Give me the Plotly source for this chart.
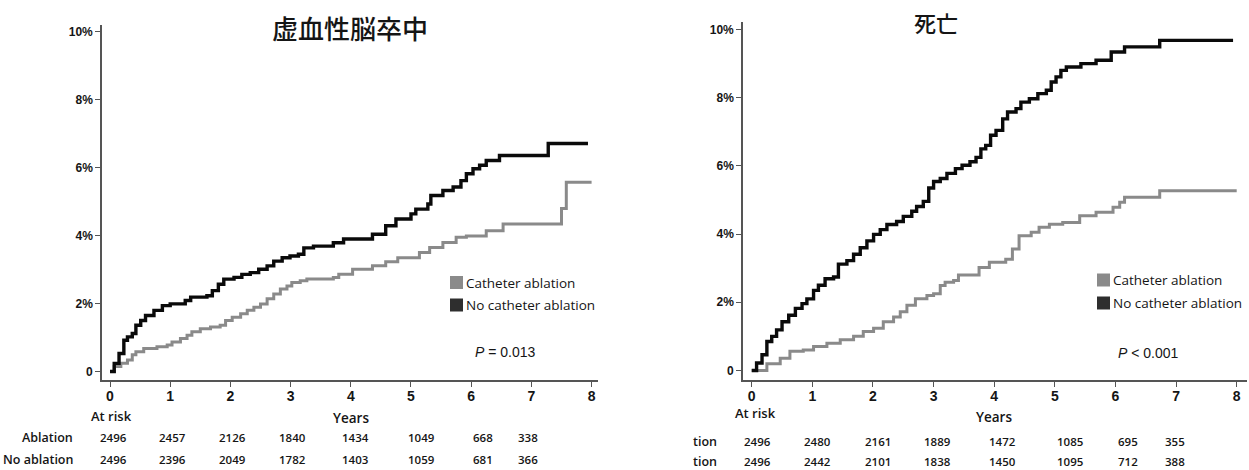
import plotly.graph_objects as go

W, H = 1249, 470

# ---------------- data ----------------
years = [0, 1, 2, 3, 4, 5, 6, 7, 8]
ytick_vals = [0, 2, 4, 6, 8, 10]
ytick_text = ["0", "2%", "4%", "6%", "8%", "10%"]

title_left = "虚血性脳卒中"
title_right = "死亡"
legend_labels = ["Catheter ablation", "No catheter ablation"]
p_left = "<i>P</i> = 0.013"
p_right = "<i>P</i> &lt; 0.001"

# Ischemic stroke – catheter ablation (years, cumulative %)
stroke_abl_t = [0, 0.07, 0.18, 0.29, 0.37, 0.43, 0.56, 0.78, 0.95, 1.03, 1.17, 1.28, 1.36, 1.5,
                1.67, 1.83, 1.92, 2.03, 2.17, 2.28, 2.39, 2.5, 2.61, 2.72, 2.83, 2.94, 3.02,
                3.16, 3.27, 3.71, 3.8, 4.03, 4.36, 4.58, 4.78, 5.14, 5.31, 5.53, 5.75, 5.92,
                6.25, 6.53, 7.5, 7.58, 8.0]
stroke_abl_y = [0, 0.15, 0.24, 0.34, 0.49, 0.58, 0.68, 0.73, 0.78, 0.87, 0.97, 1.07, 1.17, 1.26,
                1.31, 1.36, 1.5, 1.6, 1.7, 1.8, 1.89, 1.99, 2.14, 2.28, 2.43, 2.52, 2.62,
                2.67, 2.72, 2.77, 2.86, 3.01, 3.11, 3.23, 3.35, 3.5, 3.65, 3.8, 3.95, 3.99,
                4.14, 4.34, 4.8, 5.57, 5.57]

# Ischemic stroke – no catheter ablation
stroke_no_t = [0, 0.07, 0.15, 0.23, 0.29, 0.37, 0.43, 0.51, 0.59, 0.73, 0.87, 1.0, 1.25, 1.34,
               1.61, 1.7, 1.8, 1.89, 2.06, 2.19, 2.33, 2.47, 2.61, 2.72, 2.86, 2.99, 3.13,
               3.22, 3.38, 3.71, 3.88, 4.36, 4.58, 4.75, 5.0, 5.08, 5.28, 5.33, 5.53, 5.7,
               5.83, 5.92, 6.03, 6.14, 6.25, 6.47, 7.28, 7.94]
stroke_no_y = [0, 0.24, 0.53, 0.92, 1.02, 1.12, 1.36, 1.5, 1.65, 1.8, 1.94, 1.99, 2.09, 2.19,
               2.23, 2.38, 2.57, 2.72, 2.77, 2.86, 2.91, 3.01, 3.11, 3.25, 3.35, 3.4, 3.45,
               3.64, 3.69, 3.79, 3.9, 4.04, 4.29, 4.49, 4.64, 4.78, 4.93, 5.18, 5.33, 5.43,
               5.62, 5.82, 5.97, 6.07, 6.21, 6.36, 6.71, 6.71]

# Death – catheter ablation
death_abl_t = [0, 0.25, 0.47, 0.63, 0.85, 1.02, 1.24, 1.46, 1.68, 1.84, 2.01, 2.17, 2.34, 2.45,
               2.56, 2.7, 2.89, 3.0, 3.11, 3.19, 3.33, 3.41, 3.75, 3.92, 4.19, 4.3, 4.41,
               4.61, 4.74, 4.91, 5.13, 5.41, 5.68, 5.96, 6.07, 6.15, 6.73, 8.0]
death_abl_y = [0, 0.2, 0.36, 0.56, 0.6, 0.7, 0.8, 0.9, 1.0, 1.14, 1.24, 1.43, 1.57, 1.72,
               1.91, 2.1, 2.2, 2.25, 2.49, 2.59, 2.64, 2.8, 3.02, 3.17, 3.26, 3.56, 3.95,
               4.05, 4.2, 4.29, 4.34, 4.54, 4.64, 4.79, 4.93, 5.08, 5.27, 5.27]

# Death – no catheter ablation
death_no_t = [0, 0.08, 0.17, 0.25, 0.33, 0.41, 0.5, 0.61, 0.72, 0.83, 0.91, 1.02, 1.1, 1.21,
              1.35, 1.43, 1.57, 1.68, 1.79, 1.9, 2.01, 2.12, 2.23, 2.39, 2.5, 2.64, 2.72,
              2.83, 2.92, 3.0, 3.11, 3.22, 3.36, 3.47, 3.6, 3.7, 3.78, 3.86, 3.94, 4.03,
              4.14, 4.22, 4.36, 4.44, 4.58, 4.72, 4.86, 4.94, 5.02, 5.1, 5.19, 5.43, 5.68,
              5.93, 6.15, 6.73, 7.94]
death_no_y = [0, 0.22, 0.46, 0.85, 1.0, 1.19, 1.43, 1.62, 1.82, 1.96, 2.1, 2.35, 2.5, 2.69,
              2.74, 3.12, 3.22, 3.41, 3.6, 3.8, 3.99, 4.13, 4.28, 4.37, 4.52, 4.67, 4.81,
              4.96, 5.35, 5.54, 5.63, 5.78, 5.92, 6.02, 6.12, 6.25, 6.5, 6.6, 6.9, 7.04,
              7.38, 7.58, 7.68, 7.87, 7.97, 8.12, 8.22, 8.46, 8.61, 8.8, 8.9, 9.0, 9.1,
              9.34, 9.49, 9.68, 9.68]

# Numbers at risk
risk_years = [0, 1, 2, 3, 4, 5, 6, 7]
stroke_risk_abl = [2496, 2457, 2126, 1840, 1434, 1049, 668, 338]
stroke_risk_no = [2496, 2396, 2049, 1782, 1403, 1059, 681, 366]
death_risk_abl = [2496, 2480, 2161, 1889, 1472, 1085, 695, 355]
death_risk_no = [2496, 2442, 2101, 1838, 1450, 1095, 712, 388]
row_labels_left = ["Ablation", "No ablation"]
row_labels_right = ["tion", "tion"]

# ---------------- style ----------------
GRAY = "#8a8a8a"
BLACK = "#0a0a0a"
AXC = "#555555"
TXT = "#151515"
ARIAL = "Liberation Sans, Arial, sans-serif"
TBL = "Open Sans, sans-serif"
CJK = "Noto Sans CJK JP, sans-serif"

# small placement nudges of the at-risk numbers (in years)
left_nudge = [0.05, 0.03, 0.03, 0.03, 0.07, 0.17, 0.2, -0.05]
right_nudge = [0.1, 0.08, 0.08, 0.07, 0.13, 0.25, 0.21, -0.02]


def px(x):
    return x / W


def py(y):
    return 1 - y / H


fig = go.Figure()
for xa, ya, t1, y1, t2, y2 in [
    ("x", "y", stroke_abl_t, stroke_abl_y, stroke_no_t, stroke_no_y),
    ("x2", "y2", death_abl_t, death_abl_y, death_no_t, death_no_y),
]:
    fig.add_trace(go.Scatter(x=t1, y=y1, mode="lines", line=dict(shape="hv", color=GRAY, width=3),
                             xaxis=xa, yaxis=ya, showlegend=False, hoverinfo="skip"))
    fig.add_trace(go.Scatter(x=t2, y=y2, mode="lines", line=dict(shape="hv", color=BLACK, width=3.4),
                             xaxis=xa, yaxis=ya, showlegend=False, hoverinfo="skip"))

xcommon = dict(tickvals=years, ticktext=[str(v) for v in years], showline=True, linecolor=AXC,
               linewidth=1.6, ticks="outside", ticklen=5, tickwidth=1.4, tickcolor=AXC,
               showgrid=False, zeroline=False, ticklabelstandoff=-3,
               tickfont=dict(family=ARIAL, size=14, color=TXT, weight="bold"))
ycommon = dict(tickvals=ytick_vals, ticktext=ytick_text, showline=True, linecolor=AXC,
               linewidth=1.6, ticks="outside", ticklen=5, tickwidth=1.4, tickcolor=AXC,
               showgrid=False, zeroline=False,
               tickfont=dict(family=ARIAL, size=12, color=TXT, weight="bold"))

fig.update_layout(
    width=W, height=H, margin=dict(l=0, r=0, t=0, b=0),
    paper_bgcolor="white", plot_bgcolor="white",
    xaxis=dict(domain=[px(102), px(597.6)], range=[-0.133, 8.1], anchor="y", **xcommon),
    yaxis=dict(domain=[py(380), py(25)], range=[-0.25, 10.2], anchor="x", **ycommon),
    xaxis2=dict(domain=[px(743), px(1246.7)], range=[-0.144, 8.165], anchor="y2", **xcommon),
    yaxis2=dict(domain=[py(380), py(22)], range=[-0.28, 10.22], anchor="x2", **ycommon),
)

ann = []
shapes = []

# titles
ann.append(dict(text=title_left, x=px(350), y=py(27.5), xref="paper", yref="paper",
                xanchor="center", yanchor="middle", showarrow=False,
                font=dict(family=CJK, size=26, color=TXT, weight=500)))
ann.append(dict(text=title_right, x=px(935.5), y=py(22.5), xref="paper", yref="paper",
                xanchor="center", yanchor="middle", showarrow=False,
                font=dict(family=CJK, size=22, color=TXT, weight=500)))

# legends
for (bx, ty), rows in [((450, 282.5), (0, 22.5)), ((1097, 280), (0, 23))]:
    for i, (lab, col) in enumerate(zip(legend_labels, [GRAY, "#2e2e2e"])):
        cy = ty + rows[i]
        shapes.append(dict(type="rect", xref="paper", yref="paper", x0=px(bx), x1=px(bx + 13),
                           y0=py(cy + 6.5), y1=py(cy - 6.5), fillcolor=col, line=dict(width=0)))
        ann.append(dict(text=lab, x=px(bx + 14), y=py(cy), xref="paper", yref="paper",
                        xanchor="left", yanchor="middle", showarrow=False,
                        font=dict(family=TBL, size=13.5, color=TXT)))

# p values
ann.append(dict(text=p_left, x=px(505), y=py(352), xref="paper", yref="paper", xanchor="center",
                yanchor="middle", showarrow=False, font=dict(family=ARIAL, size=14, color=TXT)))
ann.append(dict(text=p_right, x=px(1148), y=py(353), xref="paper", yref="paper", xanchor="center",
                yanchor="middle", showarrow=False, font=dict(family=ARIAL, size=14, color=TXT)))

# at-risk tables
for xr, atrisk_x, atrisk_y, years_y, lab_x, labels, rows, nud, ry in [
    ("x", 89, 416, 418, 75, row_labels_left, (stroke_risk_abl, stroke_risk_no), left_nudge, (437, 459)),
    ("x2", 733, 413, 417, 719, row_labels_right, (death_risk_abl, death_risk_no), right_nudge, (441, 461)),
]:
    ann.append(dict(text="At risk", x=px(atrisk_x), y=py(atrisk_y), xref="paper", yref="paper",
                    xanchor="left", yanchor="middle", showarrow=False,
                    font=dict(family=TBL, size=13, color=TXT, weight=600)))
    ann.append(dict(text="Years", x=4, y=py(years_y), xref=xr, yref="paper",
                    xanchor="center", yanchor="middle", showarrow=False,
                    font=dict(family=TBL, size=13.5, color=TXT, weight=600)))
    for lab, vals, yy in zip(labels, rows, ry):
        ann.append(dict(text=lab, x=px(lab_x), y=py(yy), xref="paper", yref="paper",
                        xanchor="right", yanchor="middle", showarrow=False,
                        font=dict(family=TBL, size=12.5, color=TXT, weight=600)))
        for yr, v, n in zip(risk_years, vals, nud):
            ann.append(dict(text=str(v), x=yr + n, y=py(yy), xref=xr, yref="paper",
                            xanchor="center", yanchor="middle", showarrow=False,
                            font=dict(family=TBL, size=11.5, color=TXT, weight=600)))

fig.update_layout(annotations=ann, shapes=shapes)
fig.write_html("out.html")
